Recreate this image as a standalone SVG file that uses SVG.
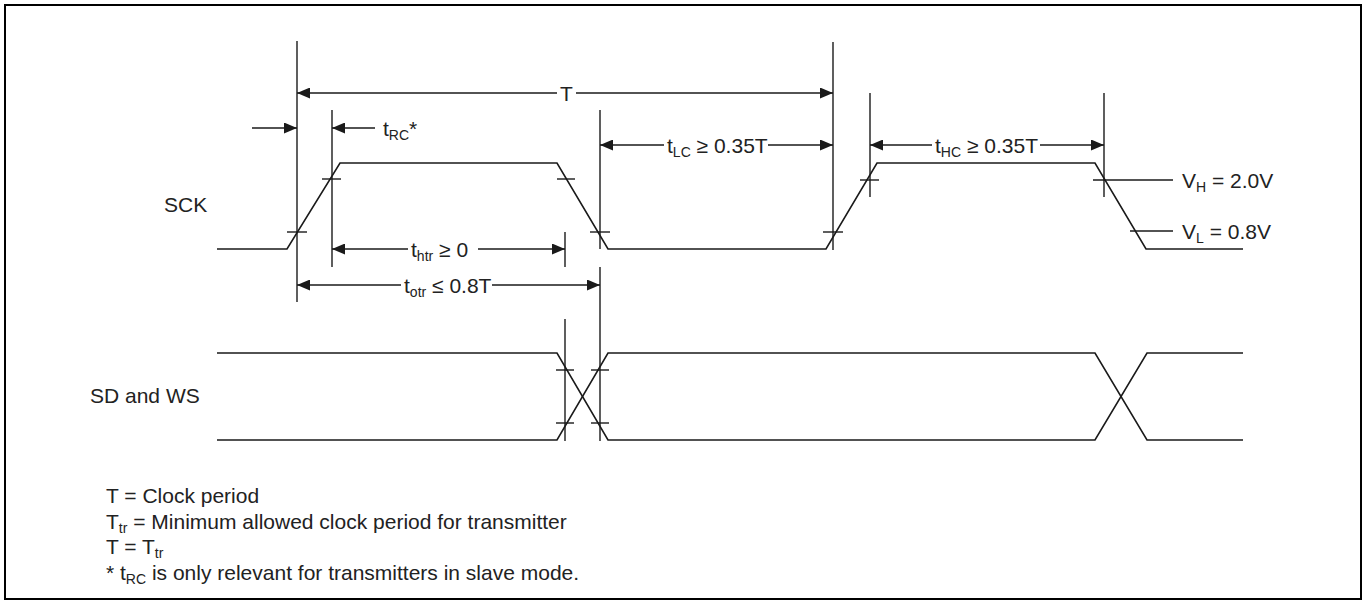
<svg xmlns="http://www.w3.org/2000/svg" width="1367" height="605" viewBox="0 0 1367 605">
<style>
  .sig{fill:none;stroke:#1a1a1a;stroke-width:1.6;stroke-linejoin:miter}
  .ln{fill:none;stroke:#1a1a1a;stroke-width:1.4}
  .ar{fill:none;stroke:#1a1a1a;stroke-width:1.4;marker-end:url(#ah)}
  text{font-family:"Liberation Sans",Arial,sans-serif;font-size:21px;fill:#222}
  .sub{font-size:14px}
</style>
<defs>
  <marker id="ah" markerUnits="userSpaceOnUse" markerWidth="13" markerHeight="11" refX="13" refY="5.5" orient="auto">
    <path d="M0,0 L13,5.5 L0,11 Z" fill="#1a1a1a"/>
  </marker>
</defs>
<rect x="5" y="5" width="1356" height="594" fill="#fff" stroke="#000" stroke-width="2"/>

<g id="signals">
  <path class="sig" d="M217,249 L287,249 L340,163 L557,163 L608,249 L826,249 L877,163 L1095,163 L1146,249 L1243,249"/>
  <path class="sig" d="M217,353 L557,353 L608,440 L1095,440 L1147,353 L1243,353"/>
  <path class="sig" d="M217,440 L557,440 L608,353 L1095,353 L1147,440 L1243,440"/>
</g>

<g id="guides">
  <line class="ln" x1="297" y1="41" x2="297" y2="302"/>
  <line class="ln" x1="332" y1="110" x2="332" y2="267"/>
  <line class="ln" x1="565" y1="232" x2="565" y2="267"/>
  <line class="ln" x1="565" y1="319" x2="565" y2="441"/>
  <line class="ln" x1="600" y1="110" x2="600" y2="249"/>
  <line class="ln" x1="600" y1="267" x2="600" y2="441"/>
  <line class="ln" x1="833" y1="42" x2="833" y2="250"/>
  <line class="ln" x1="870" y1="93" x2="870" y2="197"/>
  <line class="ln" x1="1104" y1="93" x2="1104" y2="197"/>
</g>

<g id="ticks">
  <line class="ln" x1="287" y1="232" x2="307" y2="232"/>
  <line class="ln" x1="322" y1="179" x2="341" y2="179"/>
  <line class="ln" x1="557" y1="179" x2="575" y2="179"/>
  <line class="ln" x1="590" y1="232" x2="610" y2="232"/>
  <line class="ln" x1="823" y1="232" x2="843" y2="232"/>
  <line class="ln" x1="860" y1="180" x2="879" y2="180"/>
  <line class="ln" x1="1093" y1="180" x2="1173" y2="180"/>
  <line class="ln" x1="1130" y1="231" x2="1173" y2="231"/>
  <line class="ln" x1="556" y1="370" x2="574" y2="370"/>
  <line class="ln" x1="591" y1="370" x2="609" y2="370"/>
  <line class="ln" x1="556" y1="423" x2="574" y2="423"/>
  <line class="ln" x1="591" y1="423" x2="609" y2="423"/>
</g>

<g id="connectors">
  <line class="ar" x1="252" y1="128" x2="297" y2="128"/>
  <line class="ar" x1="375" y1="128" x2="332" y2="128"/>
  <line class="ar" x1="557" y1="93" x2="297" y2="93"/>
  <line class="ar" x1="576" y1="93" x2="833" y2="93"/>
  <line class="ar" x1="408" y1="249" x2="332" y2="249"/>
  <line class="ar" x1="478" y1="249" x2="565" y2="249"/>
  <line class="ar" x1="401" y1="285" x2="297" y2="285"/>
  <line class="ar" x1="492" y1="285" x2="600" y2="285"/>
  <line class="ar" x1="664" y1="145" x2="600" y2="145"/>
  <line class="ar" x1="768" y1="145" x2="833" y2="145"/>
  <line class="ar" x1="932" y1="145" x2="870" y2="145"/>
  <line class="ar" x1="1040" y1="145" x2="1104" y2="145"/>
</g>

<g id="labels">
  <text x="164" y="212">SCK</text>
  <text x="90" y="403">SD and WS</text>
  <text x="560" y="100.5">T</text>
  <text x="383" y="135.5">t<tspan class="sub" dy="4">RC</tspan><tspan dy="-4">*</tspan></text>
  <text x="411" y="256.5">t<tspan class="sub" dy="4">htr</tspan><tspan dy="-4"> ≥ 0</tspan></text>
  <text x="404" y="292.5">t<tspan class="sub" dy="4">otr</tspan><tspan dy="-4"> ≤ 0.8T</tspan></text>
  <text x="667" y="152.5">t<tspan class="sub" dy="4">LC</tspan><tspan dy="-4"> ≥ 0.35T</tspan></text>
  <text x="935" y="152.5">t<tspan class="sub" dy="4">HC</tspan><tspan dy="-4"> ≥ 0.35T</tspan></text>
  <text x="1182" y="187.5">V<tspan class="sub" dy="4">H</tspan><tspan dy="-4"> = 2.0V</tspan></text>
  <text x="1182" y="238.5">V<tspan class="sub" dy="4">L</tspan><tspan dy="-4"> = 0.8V</tspan></text>
</g>

<g id="notes">
  <text x="106" y="503">T = Clock period</text>
  <text x="106" y="528.5">T<tspan class="sub" dy="4">tr</tspan><tspan dy="-4"> = Minimum allowed clock period for transmitter</tspan></text>
  <text x="106" y="554">T = T<tspan class="sub" dy="4">tr</tspan></text>
  <text x="106" y="579.5">* t<tspan class="sub" dy="4">RC</tspan><tspan dy="-4"> is only relevant for transmitters in slave mode.</tspan></text>
</g>
</svg>
